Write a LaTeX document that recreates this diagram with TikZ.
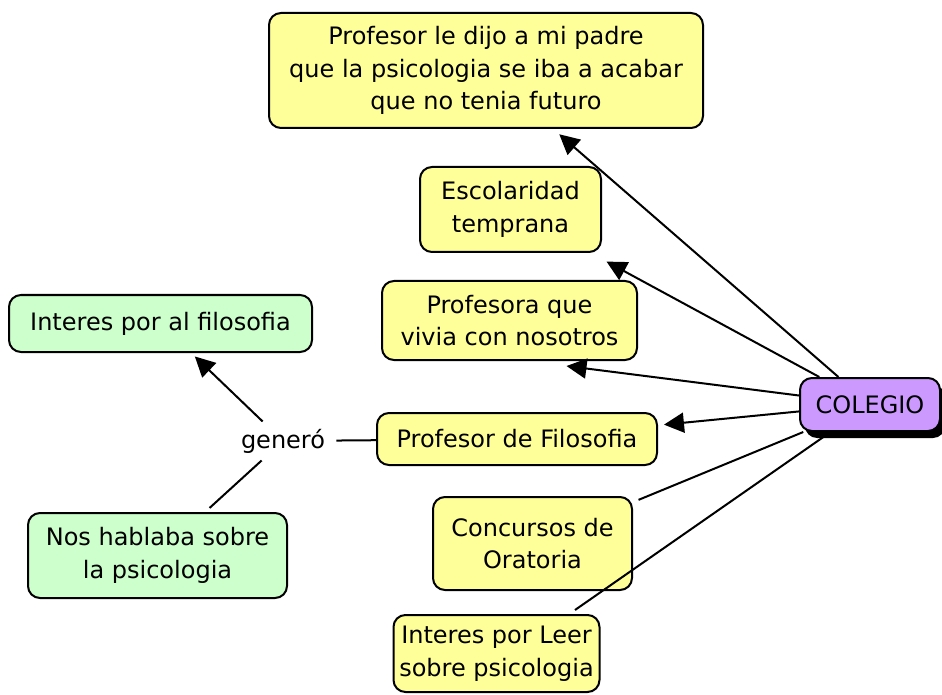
\documentclass[tikz,border=0pt]{standalone}
\usepackage{fontspec}
\setmainfont{DejaVu Sans}
\usetikzlibrary{arrows.meta,shadows}
\definecolor{amarillo}{RGB}{255,255,153}
\definecolor{verde}{RGB}{204,255,204}
\definecolor{lila}{RGB}{204,153,255}
\begin{document}
\begin{tikzpicture}[x=0.5pt,y=-0.5pt,font=\fontsize{12}{16.25}\selectfont]\tikzset{concepto/.style = {shape=rectangle, draw, rounded corners=6pt, line width=1pt, fill=amarillo, align=center, inner sep=0pt},
	enlace/.style = {line width=1pt, shorten >=3pt},
	flecha/.style = {enlace, -{Triangle[length=10pt,width=10pt]}}}

		\useasboundingbox (0,0) rectangle (942,695);

		\node[concepto, minimum width=217pt, minimum height=57.5pt] (padre) at (486,70.5) {Profesor le dijo a mi padre\\que la psicologia se iba a acabar\\que no tenia futuro};
		\node[concepto, minimum width=90.5pt, minimum height=42.5pt] (escolar) at (510.5,209.5) {Escolaridad\\temprana};
		\node[concepto, minimum width=127.5pt, minimum height=39.5pt] (profesora) at (509.5,320.5) {Profesora que\\vivia con nosotros};
		\node[concepto, fill=verde, minimum width=151.5pt, minimum height=28.5pt] (interes) at (160.5,323.5) {Interes por al filosofia};
		\node[concepto, fill=lila, minimum width=70pt, minimum height=26.5pt, drop shadow={shadow xshift=2.5pt, shadow yshift=-3.5pt, fill=black, opacity=1}] (colegio) at (870,404.5) {COLEGIO};
		\node[concepto, minimum width=140pt, minimum height=26pt] (filosofo) at (517,439) {Profesor de Filosofia};
		\node[inner sep=3.5pt] (genero) at (283,441) {generó};
		\node[concepto, fill=verde, minimum width=129.5pt, minimum height=42.5pt] (hablaba) at (157.5,555.5) {Nos hablaba sobre\\la psicologia};
		\node[concepto, minimum width=99.5pt, minimum height=46.5pt] (oratoria) at (532.5,543.5) {Concursos de\\Oratoria};
		\node[concepto, minimum width=103pt, minimum height=38.5pt] (leer) at (496.5,653.5) {Interes por Leer\\sobre psicologia};

		\coordinate (profesora_in) at ([shift={(57,5)}]profesora.south);
		\coordinate (leer_in) at ([shift={(78.5,-4)}]leer.north);

		\draw[flecha, shorten >=4pt] (colegio) -- (padre);
		\draw[flecha, shorten >=9pt] (colegio) -- (escolar);
		\draw[flecha, shorten >=0pt] (colegio) -- (profesora_in);
		\draw[flecha] (colegio) -- (filosofo);
		\draw[enlace] (colegio) -- (oratoria);
		\draw[enlace, shorten >=0pt] (colegio) -- (leer_in);
		\draw[enlace, shorten >=2pt] (filosofo) -- (genero);
		\draw[flecha, shorten >=2.5pt] (genero) -- (interes);
		\draw[enlace] (genero) -- (hablaba);
	\end{tikzpicture}
\end{document}
